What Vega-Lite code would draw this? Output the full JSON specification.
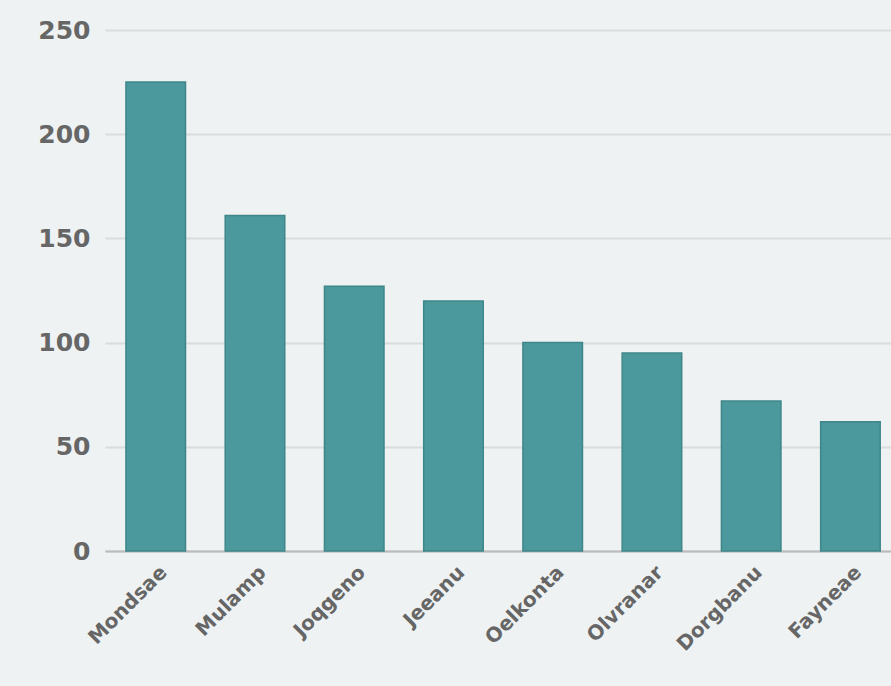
{
  "$schema": "https://vega.github.io/schema/vega-lite/v6.json",
  "width": 786,
  "height": 521,
  "autosize": {"type": "none"},
  "padding": {"left": 105, "top": 30, "right": 0, "bottom": 135},
  "background": "#eef2f2",
  "config": {"view": {"stroke": null}},
  "data": {
    "values": [
      {"label": "Mondsae", "value": 225},
      {"label": "Mulamp", "value": 161},
      {"label": "Joqgeno", "value": 127},
      {"label": "Jeeanu", "value": 120},
      {"label": "Oelkonta", "value": 100},
      {"label": "Olvranar", "value": 95},
      {"label": "Dorgbanu", "value": 72},
      {"label": "Fayneae", "value": 62}
    ]
  },
  "mark": {"type": "bar", "color": "#4b989d", "stroke": "#3f868a", "strokeWidth": 1.5},
  "encoding": {
    "x": {
      "field": "label",
      "type": "nominal",
      "sort": null,
      "title": null,
      "scale": {"paddingInner": 0.4, "paddingOuter": 0.16, "align": 0.66},
      "axis": {
        "labelAngle": -45,
        "labelAlign": "right",
        "labelBaseline": "middle",
        "labelFont": "DejaVu Sans",
        "labelFontWeight": "bold",
        "labelFontSize": 20,
        "labelColor": "#666666",
        "labelPadding": 18,
        "labelOffset": 8,
        "labelOverlap": false,
        "ticks": false,
        "domainColor": "#bbbbbb",
        "domainWidth": 2
      }
    },
    "y": {
      "field": "value",
      "type": "quantitative",
      "title": null,
      "scale": {"domain": [0, 250]},
      "axis": {
        "values": [0, 50, 100, 150, 200, 250],
        "labelFont": "DejaVu Sans",
        "labelFontWeight": "bold",
        "labelFontSize": 25,
        "labelColor": "#666666",
        "labelPadding": 15,
        "ticks": false,
        "domain": false,
        "gridColor": "#d8dcdc",
        "gridWidth": 2
      }
    }
  }
}
